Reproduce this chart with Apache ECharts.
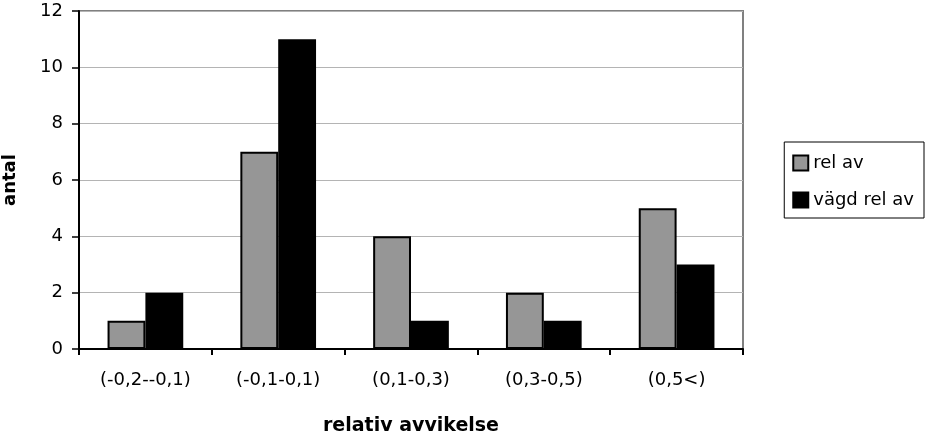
<!DOCTYPE html>
<html>
<head>
<meta charset="utf-8">
<script src="https://cdn.jsdelivr.net/npm/echarts@6/dist/echarts.min.js"></script>
<style>
  html, body { margin: 0; padding: 0; background: #fff; }
  #chart { width: 927px; height: 444px; }
</style>
</head>
<body>
<div id="chart"></div>
<script>
// data
const categories = ["(-0,2--0,1)", "(-0,1-0,1)", "(0,1-0,3)", "(0,3-0,5)", "(0,5<)"];
const relAv = [1, 7, 4, 2, 5];
const vagdRelAv = [2, 11, 1, 1, 3];
const seriesNames = ["rel av", "vägd rel av"];

const chart = echarts.init(document.getElementById("chart"), null, { renderer: "canvas" });

// the reference text is wide, DejaVu gets closest to its footprint
const font = "'DejaVu Sans', 'Liberation Sans', sans-serif";

const option = {
  animation: false,
  backgroundColor: "#fff",
  textStyle: { fontFamily: font, color: "#000" },
  grid: {
    left: 79, right: 184, top: 11, bottom: 95,
    outerBoundsMode: "none",
    containLabel: false,
    show: true,
    borderColor: "#808080",
    borderWidth: 2,
  },
  legend: {
    orient: "vertical",
    right: 3, top: 142,
    itemWidth: 15, itemHeight: 15,
    itemGap: 19,
    icon: "rect",
    padding: [12, 10, 9, 8],
    borderColor: "#000",
    borderWidth: 1,
    textStyle: { fontSize: 18, fontFamily: font, color: "#000" },
    data: seriesNames,
  },
  xAxis: {
    type: "category",
    data: categories,
    name: "relativ avvikelse",
    nameLocation: "middle",
    nameGap: 68,
    nameTextStyle: { fontSize: 19, fontWeight: "bold", fontFamily: font, color: "#000" },
    axisLine: { lineStyle: { color: "#000", width: 2 } },
    axisTick: { show: true, length: 6, lineStyle: { color: "#000", width: 2 } },
    axisLabel: { fontSize: 18, color: "#000", margin: 22, fontFamily: font },
  },
  yAxis: {
    type: "value",
    min: 0, max: 12, interval: 2,
    name: "antal",
    nameLocation: "middle",
    nameGap: 60,
    nameTextStyle: { fontSize: 18, fontWeight: "bold", fontFamily: font, color: "#000" },
    axisLine: { show: true, lineStyle: { color: "#000", width: 2 } },
    axisTick: { show: true, length: 7, lineStyle: { color: "#000", width: 1.5 } },
    axisLabel: { fontSize: 18, color: "#000", margin: 16, fontFamily: font },
    splitLine: { show: true, lineStyle: { color: "#b4b4b4", width: 1 } },
  },
  series: [
    {
      name: seriesNames[0],
      type: "bar",
      data: relAv,
      barGap: "0%",
      barCategoryGap: "43%",
      itemStyle: { color: "#969696", borderColor: "#000", borderWidth: 2 },
    },
    {
      name: seriesNames[1],
      type: "bar",
      data: vagdRelAv,
      barGap: "0%",
      barCategoryGap: "43%",
      itemStyle: { color: "#000", borderColor: "#000", borderWidth: 2 },
    },
  ],
};

chart.setOption(option);
</script>
</body>
</html>
